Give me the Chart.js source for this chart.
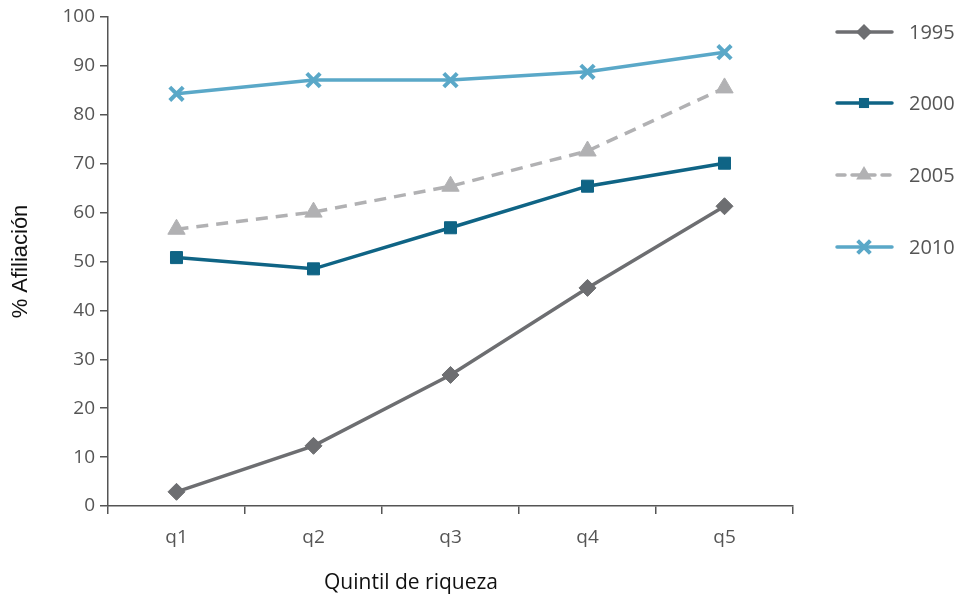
<!DOCTYPE html>
<html><head><meta charset="utf-8">
<script src="https://cdn.jsdelivr.net/npm/chart.js@4.4.1/dist/chart.umd.min.js"></script>
<style>html,body{margin:0;padding:0;background:#fff}#wrap{width:963px;height:601px}</style>
</head><body><div id="wrap"><canvas id="c" width="963" height="601"></canvas></div>
<script>
const categories = ['q1','q2','q3','q4','q5'];
const seriesNames = ['1995','2000','2005','2010'];
const v1995 = [2.9, 12.3, 26.8, 44.6, 61.3];
const v2000 = [50.8, 48.5, 56.9, 65.4, 70.1];
const v2005 = [56.6, 60.1, 65.4, 72.6, 85.5];
const v2010 = [84.3, 87.1, 87.1, 88.8, 92.8];
const yTicks = [0,10,20,30,40,50,60,70,80,90,100];
const xTitle = 'Quintil de riqueza';
const yTitle = '% Afiliación';

const FONT = "'Open Sans', 'Noto Sans', sans-serif";
const styles = [
  {color:'#6d6e71', pointStyle:'rectRot', radius:8, chartRadius:8.5, dash:[]},
  {color:'#0f6485', pointStyle:'rect', radius:7, chartRadius:8.5, dash:[]},
  {color:'#b1b1b3', pointStyle:'triangle', radius:9, chartRadius:10, dash:[12,8]},
  {color:'#5aa8c8', pointStyle:'crossRot', radius:9, chartRadius:9.5, dash:[]}
];
const values = [v1995, v2000, v2005, v2010];

const datasets = seriesNames.map((n,i)=>({
  label:n, data:values[i],
  borderColor:styles[i].color, backgroundColor:styles[i].color,
  borderWidth:3.5, borderDash:styles[i].dash,
  pointStyle:styles[i].pointStyle, pointRadius:styles[i].chartRadius,
  pointBorderWidth: styles[i].pointStyle==='crossRot'?4:1,
  pointBackgroundColor:styles[i].color, pointBorderColor:styles[i].color,
  tension:0, clip:false
}));
function drawMarker(ctx, st, x, y){
  ctx.save();
  ctx.fillStyle = st.color; ctx.strokeStyle = st.color;
  const r = st.radius;
  ctx.beginPath();
  if (st.pointStyle==='rectRot'){
    ctx.moveTo(x, y-r); ctx.lineTo(x+r, y); ctx.lineTo(x, y+r); ctx.lineTo(x-r, y); ctx.closePath(); ctx.fill();
  } else if (st.pointStyle==='rect'){
    const s = r*0.72; ctx.rect(x-s, y-s, 2*s, 2*s); ctx.fill();
  } else if (st.pointStyle==='triangle'){
    ctx.moveTo(x, y-r); ctx.lineTo(x+r*0.87, y+r*0.5); ctx.lineTo(x-r*0.87, y+r*0.5); ctx.closePath(); ctx.fill();
  } else {
    const d = r*0.707; ctx.lineWidth = 4;
    ctx.moveTo(x-d,y-d); ctx.lineTo(x+d,y+d); ctx.moveTo(x+d,y-d); ctx.lineTo(x-d,y+d); ctx.stroke();
  }
  ctx.restore();
}
const legendY = [32, 103, 175, 247];
const customText = {
  id:'customText',
  afterDraw(chart){
    const ctx = chart.ctx;
    ctx.save();
    seriesNames.forEach((n,i)=>{
      const st = styles[i], y = legendY[i];
      ctx.save();
      ctx.strokeStyle = st.color; ctx.lineWidth = 3.5; ctx.lineCap = 'round';
      ctx.setLineDash(st.dash.length ? [8,7] : []);
      ctx.beginPath(); ctx.moveTo(837, y); ctx.lineTo(892, y); ctx.stroke();
      ctx.restore();
      drawMarker(ctx, st, 864, y);
      ctx.fillStyle = '#555'; ctx.font = '20px ' + FONT;
      ctx.textBaseline = 'middle'; ctx.textAlign = 'left';
      ctx.fillText(n, 909, y+1);
    });
    ctx.fillStyle = '#111'; ctx.font = '21px ' + FONT;
    ctx.textAlign = 'center'; ctx.textBaseline = 'middle';
    ctx.fillText(xTitle, 411, 583);
    ctx.restore();
  }
};

new Chart(document.getElementById('c'), {
  type:'line',
  data:{labels:categories, datasets},
  plugins:[customText],
  options:{
    responsive:false, animation:false, devicePixelRatio:1,
    layout:{padding:{left:8, right:170, top:17, bottom:0}},
    plugins:{legend:{display:false}, tooltip:{enabled:false}},
    scales:{
      x:{
        offset:true,
        grid:{offset:true, drawOnChartArea:false, drawTicks:true, tickLength:8, color:'#555', lineWidth:1.5},
        border:{display:true, color:'#555', width:1.5},
        ticks:{color:'#555', font:{family:FONT, size:19}, padding:12},
        afterFit(s){ s.height = 95; }
      },
      y:{
        min:0, max:100,
        afterBuildTicks(s){ s.ticks = yTicks.map(v=>({value:v})); },
        grid:{drawOnChartArea:false, drawTicks:true, tickLength:8, color:'#555', lineWidth:1.5},
        border:{display:true, color:'#555', width:1.5},
        ticks:{color:'#555', font:{family:FONT, size:19}, padding:5},
        title:{display:true, text:yTitle, color:'#111', font:{family:"'Liberation Sans', Arial, sans-serif", size:22}, padding:{top:0,bottom:4}},
        afterFit(s){ s.width = 100; }
      }
    }
  }
});
</script></body></html>
